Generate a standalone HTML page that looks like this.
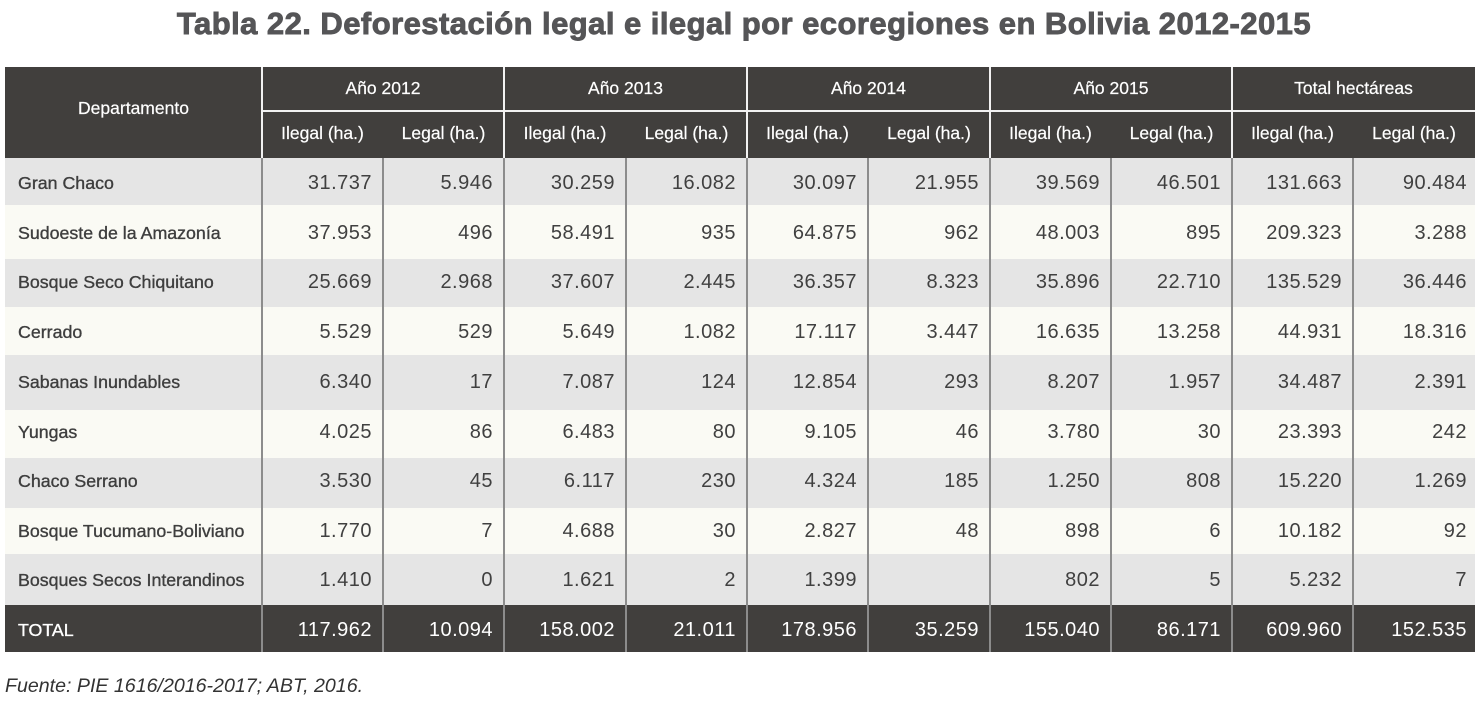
<!DOCTYPE html>
<html>
<head>
<meta charset="utf-8">
<style>
html,body{margin:0;padding:0;background:#fff;}
body{width:1482px;height:714px;position:relative;overflow:hidden;font-family:"Liberation Sans",Arial,sans-serif;}
.title{position:absolute;left:0;top:4px;width:1482px;text-align:center;font-weight:bold;font-size:31px;letter-spacing:0.45px;color:#555557;line-height:40px;padding-left:6px;box-sizing:border-box;-webkit-text-stroke:0.9px #555557;}
.hdr{position:absolute;left:5px;top:67px;width:1470px;height:91px;background:#413f3d;}
.wv{position:absolute;top:67px;height:91px;width:2px;background:#f2f2f2;}
.wh{position:absolute;left:262px;top:110px;width:1213px;height:2px;background:#f2f2f2;}
.ht{position:absolute;color:#fff;font-size:17.5px;text-align:center;height:30px;line-height:30px;white-space:nowrap;-webkit-text-stroke:0.2px #fff;}
.row{position:absolute;left:5px;width:1470px;}
.g{background:#e5e5e5;}
.c{background:#fafaf4;}
.tot{background:#413f3d;}
.gl{position:absolute;top:158px;height:494px;width:2px;background:#8c8c8c;}
.tr{position:absolute;left:5px;width:1470px;height:30px;line-height:30px;display:grid;grid-template-columns:257px 121px 121px 122px 121px 121px 122px 121px 121px 121px 122px;color:#404040;}
.tr span{text-align:right;padding-right:11px;font-size:20px;letter-spacing:0.5px;white-space:nowrap;}
.tr span.l{text-align:left;padding-left:13px;padding-right:0;font-size:17.8px;letter-spacing:0;color:#3e3e3e;-webkit-text-stroke:0.35px #3e3e3e;}
.tr span:last-child{padding-right:8px;}
.tr.w{color:#fff;}
.tr.w span.l{color:#fff;-webkit-text-stroke:0.35px #fff;}
.foot{position:absolute;left:5px;top:674px;font-style:italic;font-size:19.6px;color:#333;line-height:24px;white-space:nowrap;}
</style>
</head>
<body>
<div class="title">Tabla 22. Deforestación legal e ilegal por ecoregiones en Bolivia 2012-2015</div>

<div class="hdr"></div>
<div class="wh"></div>
<div class="wv" style="left:261px"></div>
<div class="wv" style="left:503px"></div>
<div class="wv" style="left:746px"></div>
<div class="wv" style="left:989px"></div>
<div class="wv" style="left:1231px"></div>

<div class="ht" style="left:5px;width:257px;top:93px;">Departamento</div>
<div class="ht" style="left:262px;width:242px;top:73px;">Año 2012</div>
<div class="ht" style="left:504px;width:243px;top:73px;">Año 2013</div>
<div class="ht" style="left:747px;width:243px;top:73px;">Año 2014</div>
<div class="ht" style="left:990px;width:242px;top:73px;">Año 2015</div>
<div class="ht" style="left:1232px;width:243px;top:73px;">Total hectáreas</div>

<div class="ht" style="left:262px;width:121px;top:118px;">Ilegal (ha.)</div>
<div class="ht" style="left:383px;width:121px;top:118px;">Legal (ha.)</div>
<div class="ht" style="left:504px;width:122px;top:118px;">Ilegal (ha.)</div>
<div class="ht" style="left:626px;width:121px;top:118px;">Legal (ha.)</div>
<div class="ht" style="left:747px;width:121px;top:118px;">Ilegal (ha.)</div>
<div class="ht" style="left:868px;width:122px;top:118px;">Legal (ha.)</div>
<div class="ht" style="left:990px;width:121px;top:118px;">Ilegal (ha.)</div>
<div class="ht" style="left:1111px;width:121px;top:118px;">Legal (ha.)</div>
<div class="ht" style="left:1232px;width:121px;top:118px;">Ilegal (ha.)</div>
<div class="ht" style="left:1353px;width:122px;top:118px;">Legal (ha.)</div>

<div class="row g" style="top:158px;height:47px;"></div>
<div class="row c" style="top:205px;height:54px;"></div>
<div class="row g" style="top:259px;height:48px;"></div>
<div class="row c" style="top:307px;height:48px;"></div>
<div class="row g" style="top:355px;height:55px;"></div>
<div class="row c" style="top:410px;height:48px;"></div>
<div class="row g" style="top:458px;height:50px;"></div>
<div class="row c" style="top:508px;height:46px;"></div>
<div class="row g" style="top:554px;height:51px;"></div>
<div class="row tot" style="top:605px;height:47px;"></div>

<div class="gl" style="left:261px"></div>
<div class="gl" style="left:382px"></div>
<div class="gl" style="left:503px"></div>
<div class="gl" style="left:625px"></div>
<div class="gl" style="left:746px"></div>
<div class="gl" style="left:867px"></div>
<div class="gl" style="left:989px"></div>
<div class="gl" style="left:1110px"></div>
<div class="gl" style="left:1231px"></div>
<div class="gl" style="left:1352px"></div>

<div class="tr" style="top:168px;"><span class="l">Gran Chaco</span><span>31.737</span><span>5.946</span><span>30.259</span><span>16.082</span><span>30.097</span><span>21.955</span><span>39.569</span><span>46.501</span><span>131.663</span><span>90.484</span></div>
<div class="tr" style="top:218px;"><span class="l">Sudoeste de la Amazonía</span><span>37.953</span><span>496</span><span>58.491</span><span>935</span><span>64.875</span><span>962</span><span>48.003</span><span>895</span><span>209.323</span><span>3.288</span></div>
<div class="tr" style="top:267px;"><span class="l">Bosque Seco Chiquitano</span><span>25.669</span><span>2.968</span><span>37.607</span><span>2.445</span><span>36.357</span><span>8.323</span><span>35.896</span><span>22.710</span><span>135.529</span><span>36.446</span></div>
<div class="tr" style="top:317px;"><span class="l">Cerrado</span><span>5.529</span><span>529</span><span>5.649</span><span>1.082</span><span>17.117</span><span>3.447</span><span>16.635</span><span>13.258</span><span>44.931</span><span>18.316</span></div>
<div class="tr" style="top:367px;"><span class="l">Sabanas Inundables</span><span>6.340</span><span>17</span><span>7.087</span><span>124</span><span>12.854</span><span>293</span><span>8.207</span><span>1.957</span><span>34.487</span><span>2.391</span></div>
<div class="tr" style="top:417px;"><span class="l">Yungas</span><span>4.025</span><span>86</span><span>6.483</span><span>80</span><span>9.105</span><span>46</span><span>3.780</span><span>30</span><span>23.393</span><span>242</span></div>
<div class="tr" style="top:466px;"><span class="l">Chaco Serrano</span><span>3.530</span><span>45</span><span>6.117</span><span>230</span><span>4.324</span><span>185</span><span>1.250</span><span>808</span><span>15.220</span><span>1.269</span></div>
<div class="tr" style="top:516px;"><span class="l">Bosque Tucumano-Boliviano</span><span>1.770</span><span>7</span><span>4.688</span><span>30</span><span>2.827</span><span>48</span><span>898</span><span>6</span><span>10.182</span><span>92</span></div>
<div class="tr" style="top:565px;"><span class="l">Bosques Secos Interandinos</span><span>1.410</span><span>0</span><span>1.621</span><span>2</span><span>1.399</span><span></span><span>802</span><span>5</span><span>5.232</span><span>7</span></div>
<div class="tr w" style="top:615px;"><span class="l">TOTAL</span><span>117.962</span><span>10.094</span><span>158.002</span><span>21.011</span><span>178.956</span><span>35.259</span><span>155.040</span><span>86.171</span><span>609.960</span><span>152.535</span></div>

<div class="foot">Fuente: PIE 1616/2016-2017; ABT, 2016.</div>
</body>
</html>
